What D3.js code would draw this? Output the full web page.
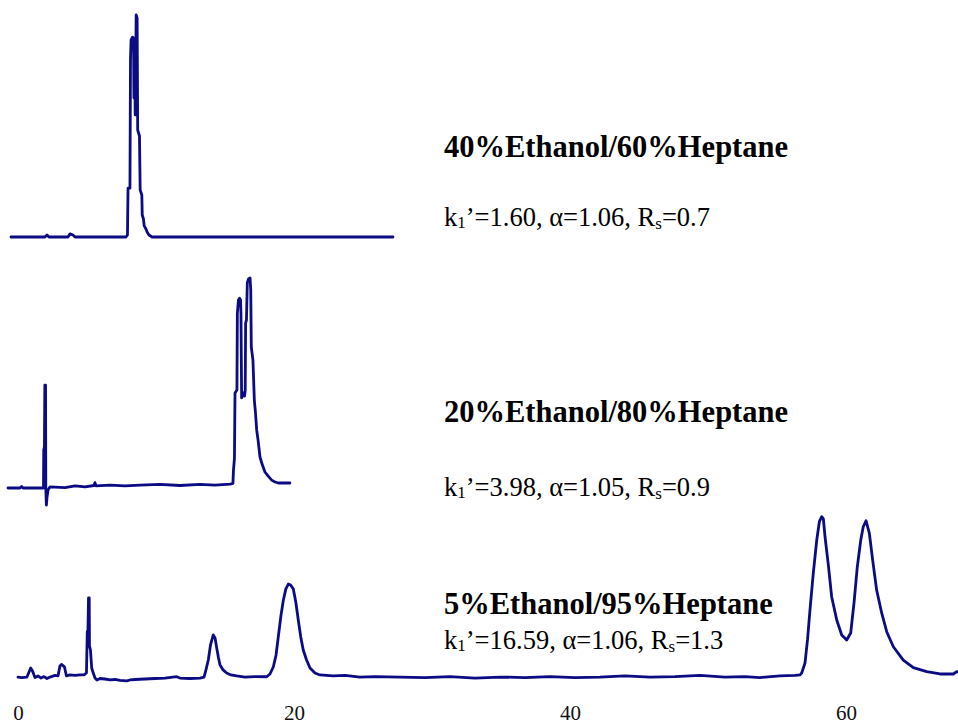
<!DOCTYPE html>
<html>
<head>
<meta charset="utf-8">
<script src="https://cdn.jsdelivr.net/npm/d3@7"></script>
<style>
  html, body { margin: 0; padding: 0; background: #ffffff; }
  svg { display: block; }
</style>
</head>
<body>
<script>
// Chromatograms: retention time (min) vs detector signal (relative units, main peak ≈ 100)
const trace40 = [
  [0.00,0.0],[1.38,0.0],[2.46,0.0],[2.61,0.9],[2.75,0.0],[4.13,0.0],[4.28,1.4],[4.49,0.9],[4.64,0.0],
  [8.33,0.0],[8.44,0.9],[8.48,22.0],[8.62,22.0],[8.66,80.0],[8.70,88.7],[8.80,90.0],[8.88,89.6],
  [8.91,62.6],[8.97,78.8],[9.00,55.0],[9.07,100.0],[9.14,98.6],[9.18,48.2],[9.31,45.5],[9.36,21.2],
  [9.48,18.9],[9.51,9.9],[9.60,8.1],[9.65,5.0],[9.78,3.6],[9.86,2.3],[10.00,0.9],[10.22,0.0],[27.68,0.0]
];

const trace20 = [
  [0.00,0.0],[0.87,0.0],[0.98,0.7],[1.09,0.0],[2.57,0.0],[2.59,18.3],[2.64,19.7],[2.67,49.5],[2.72,49.5],
  [2.74,0.0],[2.78,-8.2],[2.83,-4.3],[2.90,-1.0],[3.04,0.5],[4.13,0.2],[4.86,1.0],[5.58,0.5],[6.23,1.2],
  [6.30,2.6],[6.38,1.0],[7.39,1.4],[8.48,1.0],[9.57,1.4],[11.01,1.7],[12.46,1.2],[13.91,1.7],[15.00,1.4],
  [16.09,1.9],[16.30,2.2],[16.34,8.7],[16.41,14.4],[16.45,45.7],[16.59,47.1],[16.62,84.1],[16.70,90.4],
  [16.78,91.3],[16.85,90.4],[16.88,84.1],[16.93,43.3],[17.03,45.7],[17.14,44.2],[17.19,47.1],[17.22,79.3],
  [17.28,80.8],[17.34,98.6],[17.43,100.5],[17.54,101.0],[17.59,95.2],[17.63,67.8],[17.75,61.5],[17.85,42.3],
  [17.93,36.5],[18.02,27.9],[18.12,23.1],[18.26,14.9],[18.41,11.5],[18.62,7.7],[18.84,5.8],[19.11,3.8],
  [19.35,2.9],[19.59,2.4],[20.00,2.4],[20.43,2.4]
];

const trace5 = [
  [0.00,1.2],[0.29,0.9],[0.65,1.2],[0.80,4.3],[0.92,6.8],[1.05,4.9],[1.23,0.9],[1.45,1.9],[1.67,0.6],
  [1.88,1.5],[2.10,0.3],[2.32,1.2],[2.68,2.2],[2.90,1.9],[3.04,8.0],[3.15,9.0],[3.30,8.0],[3.37,7.4],
  [3.51,1.9],[3.77,2.5],[4.13,2.2],[4.49,2.5],[4.78,2.5],[4.96,3.7],[5.02,29.0],[5.07,30.2],[5.11,50.0],
  [5.16,50.0],[5.18,20.4],[5.25,17.9],[5.34,6.8],[5.43,4.3],[5.58,0.6],[5.72,-0.6],[5.94,0.3],[6.30,0.0],
  [6.67,-0.6],[7.03,-0.3],[7.39,-0.9],[7.88,-1.2],[8.12,-0.6],[8.48,-0.3],[9.20,0.0],[9.93,0.3],[10.65,0.6],
  [11.50,1.4],[11.74,0.6],[12.46,0.3],[13.19,0.6],[13.48,1.2],[13.62,5.6],[13.79,11.7],[13.95,21.0],
  [14.15,27.2],[14.28,25.3],[14.40,19.1],[14.53,13.0],[14.64,8.6],[14.86,5.6],[15.12,3.7],[15.43,2.5],
  [15.85,1.9],[16.45,1.2],[17.17,1.5],[18.02,1.4],[18.26,3.1],[18.50,7.4],[18.70,14.8],[18.86,25.9],
  [19.06,39.5],[19.23,48.8],[19.41,55.6],[19.59,58.6],[19.75,58.0],[19.95,55.6],[20.13,47.5],[20.31,36.4],
  [20.49,25.9],[20.67,17.9],[20.91,11.7],[21.16,6.8],[21.52,3.7],[21.88,2.5],[22.83,1.9],[23.70,2.2],
  [24.78,1.2],[25.87,1.5],[27.68,1.2],[29.49,0.9],[31.30,1.5],[33.12,0.6],[34.93,1.2],[36.74,0.9],
  [38.55,1.5],[40.36,0.9],[42.17,1.2],[43.99,1.9],[45.80,1.2],[47.61,1.5],[49.42,2.2],[51.23,1.2],
  [52.68,1.5],[53.77,0.9],[55.22,1.9],[56.30,2.2],[56.67,2.5],[56.79,3.7],[57.03,9.9],[57.21,24.1],
  [57.39,42.6],[57.63,65.4],[57.88,85.8],[58.07,97.1],[58.24,100.2],[58.36,98.8],[58.48,87.8],[58.72,70.4],
  [58.96,50.8],[59.33,36.4],[59.69,27.2],[60.05,24.1],[60.34,28.4],[60.58,46.9],[60.82,69.3],[61.07,85.8],
  [61.25,94.0],[61.45,97.7],[61.69,90.1],[61.93,73.5],[62.22,54.9],[62.59,40.6],[62.95,29.2],[63.43,19.9],
  [64.15,11.7],[64.88,7.0],[65.85,4.5],[66.81,3.1],[67.78,3.1],[68.02,4.5],[68.12,4.3]
];

// Mobile-phase labels and separation parameters
const phaseLabels = ["40%Ethanol/60%Heptane", "20%Ethanol/80%Heptane", "5%Ethanol/95%Heptane"];
const kValues = ["1.60", "3.98", "16.59"];
const alphaValues = ["1.06", "1.05", "1.06"];
const rsValues = ["0.7", "0.9", "1.3"];
const timeTicks = [0, 20, 40, 60];

const W = 958, H = 725;
const pxPerMin = 13.8;
const ink = "#0b0b84";
const serif = "'Liberation Serif', 'Times New Roman', serif";

const svg = d3.select("body").append("svg")
  .attr("width", W).attr("height", H)
  .attr("viewBox", `0 0 ${W} ${H}`);

// Panel layout: trace origin, baseline, full-scale height, label baselines
const panels = [
  { data: trace40, x0: 11, base: 237, top: 15,  titleY: 157, paramY: 226 },
  { data: trace20, x0: 8,  base: 488, top: 280, titleY: 422, paramY: 496 },
  { data: trace5,  x0: 18, base: 679, top: 517, titleY: 614, paramY: 649 }
];

panels.forEach((p, i) => {
  const tEnd = d3.max(p.data, d => d[0]);
  p.x = d3.scaleLinear().domain([0, tEnd]).range([p.x0, p.x0 + pxPerMin * tEnd]);
  p.y = d3.scaleLinear().domain([0, 100]).range([p.base, p.top]);

  const line = d3.line().x(d => p.x(d[0])).y(d => p.y(d[1]));
  svg.append("path")
    .datum(p.data)
    .attr("d", line)
    .attr("fill", "none")
    .attr("stroke", ink)
    .attr("stroke-width", 2.8)
    .attr("stroke-linejoin", "round")
    .attr("stroke-linecap", "round");

  // Mobile phase composition
  svg.append("text")
    .attr("x", 444).attr("y", p.titleY)
    .attr("font-family", serif)
    .attr("font-weight", "bold")
    .attr("font-size", 30.5)
    .attr("fill", "#000")
    .text(phaseLabels[i]);

  // k1', alpha, Rs
  const t = svg.append("text")
    .attr("x", 444).attr("y", p.paramY)
    .attr("font-family", serif)
    .attr("font-size", 26.5)
    .attr("fill", "#000");
  t.append("tspan").text("k");
  t.append("tspan").attr("font-size", 17).attr("dy", 2).text("1");
  t.append("tspan").attr("dy", -2).text(`\u2019=${kValues[i]}, \u03b1=${alphaValues[i]}, R`);
  t.append("tspan").attr("font-size", 17).attr("dy", 3).text("s");
  t.append("tspan").attr("dy", -3).text(`=${rsValues[i]}`);
});

// Time axis under the bottom trace (labels only)
const axis = d3.axisBottom(panels[2].x)
  .tickValues(timeTicks)
  .tickSize(0)
  .tickPadding(6)
  .tickFormat(d3.format("d"));

const gAxis = svg.append("g")
  .attr("transform", "translate(0,699)")
  .call(axis);
gAxis.attr("font-family", serif).attr("font-size", 21);
gAxis.select(".domain").remove();
gAxis.selectAll("text")
  .style("font-family", serif)
  .style("font-size", "21px")
  .attr("fill", "#111");
</script>
</body>
</html>
